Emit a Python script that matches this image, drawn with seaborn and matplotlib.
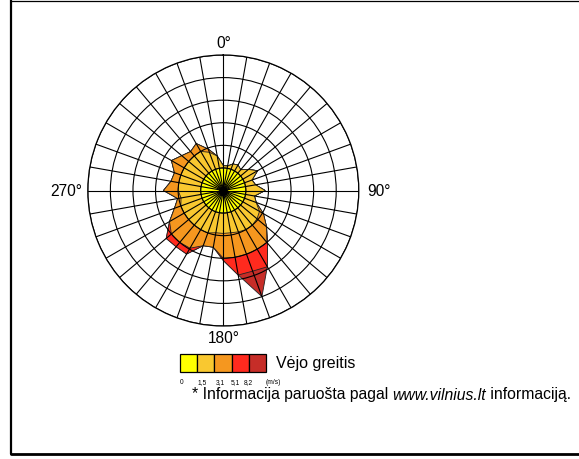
import numpy as np
import seaborn as sns
import matplotlib
matplotlib.use("Agg")
import matplotlib.pyplot as plt
from matplotlib.patches import Rectangle
from matplotlib.lines import Line2D

# wind directions (deg, clockwise from north) and share per speed class (ring units)
directions = list(range(0, 360, 10))
speed_0_15 = [1.0] * 36
speed_15_31 = [0.10, 0.10, 0.25, 0.30, 0.20, 0.45, 0.75, 0.35, 0.45, 0.85, 0.40, 0.55,
               0.85, 0.95, 1.00, 1.00, 0.95, 0.90, 0.90, 0.90, 1.00, 1.00, 1.00, 1.00,
               1.00, 1.00, 0.90, 1.00, 1.00, 1.00, 1.00, 1.00, 1.00, 1.00, 0.80, 0.55]
speed_31_51 = [0, 0, 0, 0, 0, 0, 0, 0, 0, 0, 0, 0,
               0.20, 0.55, 1.00, 1.00, 1.05, 1.10, 1.10, 0.65, 0.60, 0.95, 1.00, 1.00,
               0.75, 0.30, 0.15, 0.65, 0.35, 0.30, 0.65, 0.40, 0.25, 0.40, 0.15, 0]
speed_51_82 = [0, 0, 0, 0, 0, 0, 0, 0, 0, 0, 0, 0,
               0, 0, 0.05, 0.90, 0.80, 0.80, 0.10, 0, 0, 0.30, 0.25, 0.30,
               0, 0, 0, 0, 0, 0, 0, 0, 0, 0, 0, 0]
speed_82_up = [0, 0, 0, 0, 0, 0, 0, 0, 0, 0, 0, 0,
               0, 0, 0, 0, 1.20, 0, 0, 0, 0, 0, 0, 0,
               0, 0, 0, 0, 0, 0, 0, 0, 0, 0, 0, 0]

class_labels = ["0", "1,5", "3,1", "5,1", "8,2"]
class_colors = ["#FFFF00", "#F9C830", "#F5971F", "#FF2A1E", "#C62D28"]

sns.set_theme(style="white")
plt.rcParams["font.family"] = ["Liberation Sans", "DejaVu Sans"]
plt.rcParams["text.color"] = "black"

W, H = 579, 460
fig = plt.figure(figsize=(W / 100, H / 100), dpi=100)

cx, cy, rad = 223.3, 191.5, 135.5
ax = fig.add_axes([(cx - rad) / W, 1 - (cy + rad) / H, 2 * rad / W, 2 * rad / H],
                  projection="polar")
ax.set_theta_zero_location("N")
ax.set_theta_direction(-1)

theta = np.deg2rad(directions + [directions[0]])
classes = [speed_0_15, speed_15_31, speed_31_51, speed_51_82, speed_82_up]
cum = np.cumsum(np.array(classes), axis=0)
for i in range(len(classes) - 1, -1, -1):
    r = list(cum[i]) + [cum[i][0]]
    ax.fill(theta, r, facecolor=class_colors[i], edgecolor="#222222", linewidth=0.6, zorder=1)

ax.set_ylim(0, 6)
ax.set_yticks([1, 2, 3, 4, 5, 6])
ax.set_yticklabels([])
ax.set_xticks(np.deg2rad(directions))
ax.set_xticklabels([])
ax.set_axisbelow(False)
ax.grid(True, color="black", linewidth=0.8)
ax.spines["polar"].set_color("black")
ax.spines["polar"].set_linewidth(0.9)
ax.set_facecolor("white")
ax.scatter([0], [0], s=30, color="black", zorder=5)

def px(x, y):
    return x / W, 1 - y / H

lab = dict(fontsize=11.2, color="black", ha="center", va="center")
fig.text(*px(224, 44), "0°", **lab)
fig.text(*px(379, 191.5), "90°", **lab)
fig.text(*px(224, 339), "180°", **lab)
fig.text(*px(66.5, 191.5), "270°", **lab)

# legend boxes
bx0, bw, by0, bh = 180, 17.2, 355, 18
for i, c in enumerate(class_colors):
    fig.patches.append(Rectangle(px(bx0 + i * bw, by0 + bh), bw / W, bh / H,
                                 transform=fig.transFigure, facecolor=c,
                                 edgecolor="black", linewidth=0.9))
fig.text(*px(276, 364), "Vėjo greitis", fontsize=11.5, ha="left", va="center")
label_x = [182, 202, 220, 235, 248]
for x, t in zip(label_x, class_labels):
    fig.text(*px(x, 383), t, fontsize=4.8, ha="center", va="center")
fig.text(*px(273, 383), "(m/s)", fontsize=4.8, ha="center", va="center")

# footnote with italic site name
fs = 11.35
t1 = fig.text(*px(192, 395), "* Informacija paruošta pagal ", fontsize=fs, ha="left", va="center")
fig.canvas.draw()
bb = t1.get_window_extent()
t2 = fig.text(bb.x1 / W, 1 - 395 / H, "www.vilnius.lt", fontsize=fs, style="italic",
              ha="left", va="center")
fig.canvas.draw()
bb2 = t2.get_window_extent()
fig.text(bb2.x1 / W, 1 - 395 / H, " informaciją.", fontsize=fs, ha="left", va="center")

# frame
fig.lines.append(Line2D([11 / W, 11 / W], [1 - 1 / H, 1 - 455 / H], transform=fig.transFigure,
                        color="black", linewidth=1.6))
fig.lines.append(Line2D([11 / W, 1], [1 - 2 / H, 1 - 2 / H], transform=fig.transFigure,
                        color="black", linewidth=0.9))
fig.lines.append(Line2D([11 / W, 1], [1 - 455 / H, 1 - 455 / H], transform=fig.transFigure,
                        color="black", linewidth=2.0))

fig.savefig("out.png", dpi=100, facecolor="white")
